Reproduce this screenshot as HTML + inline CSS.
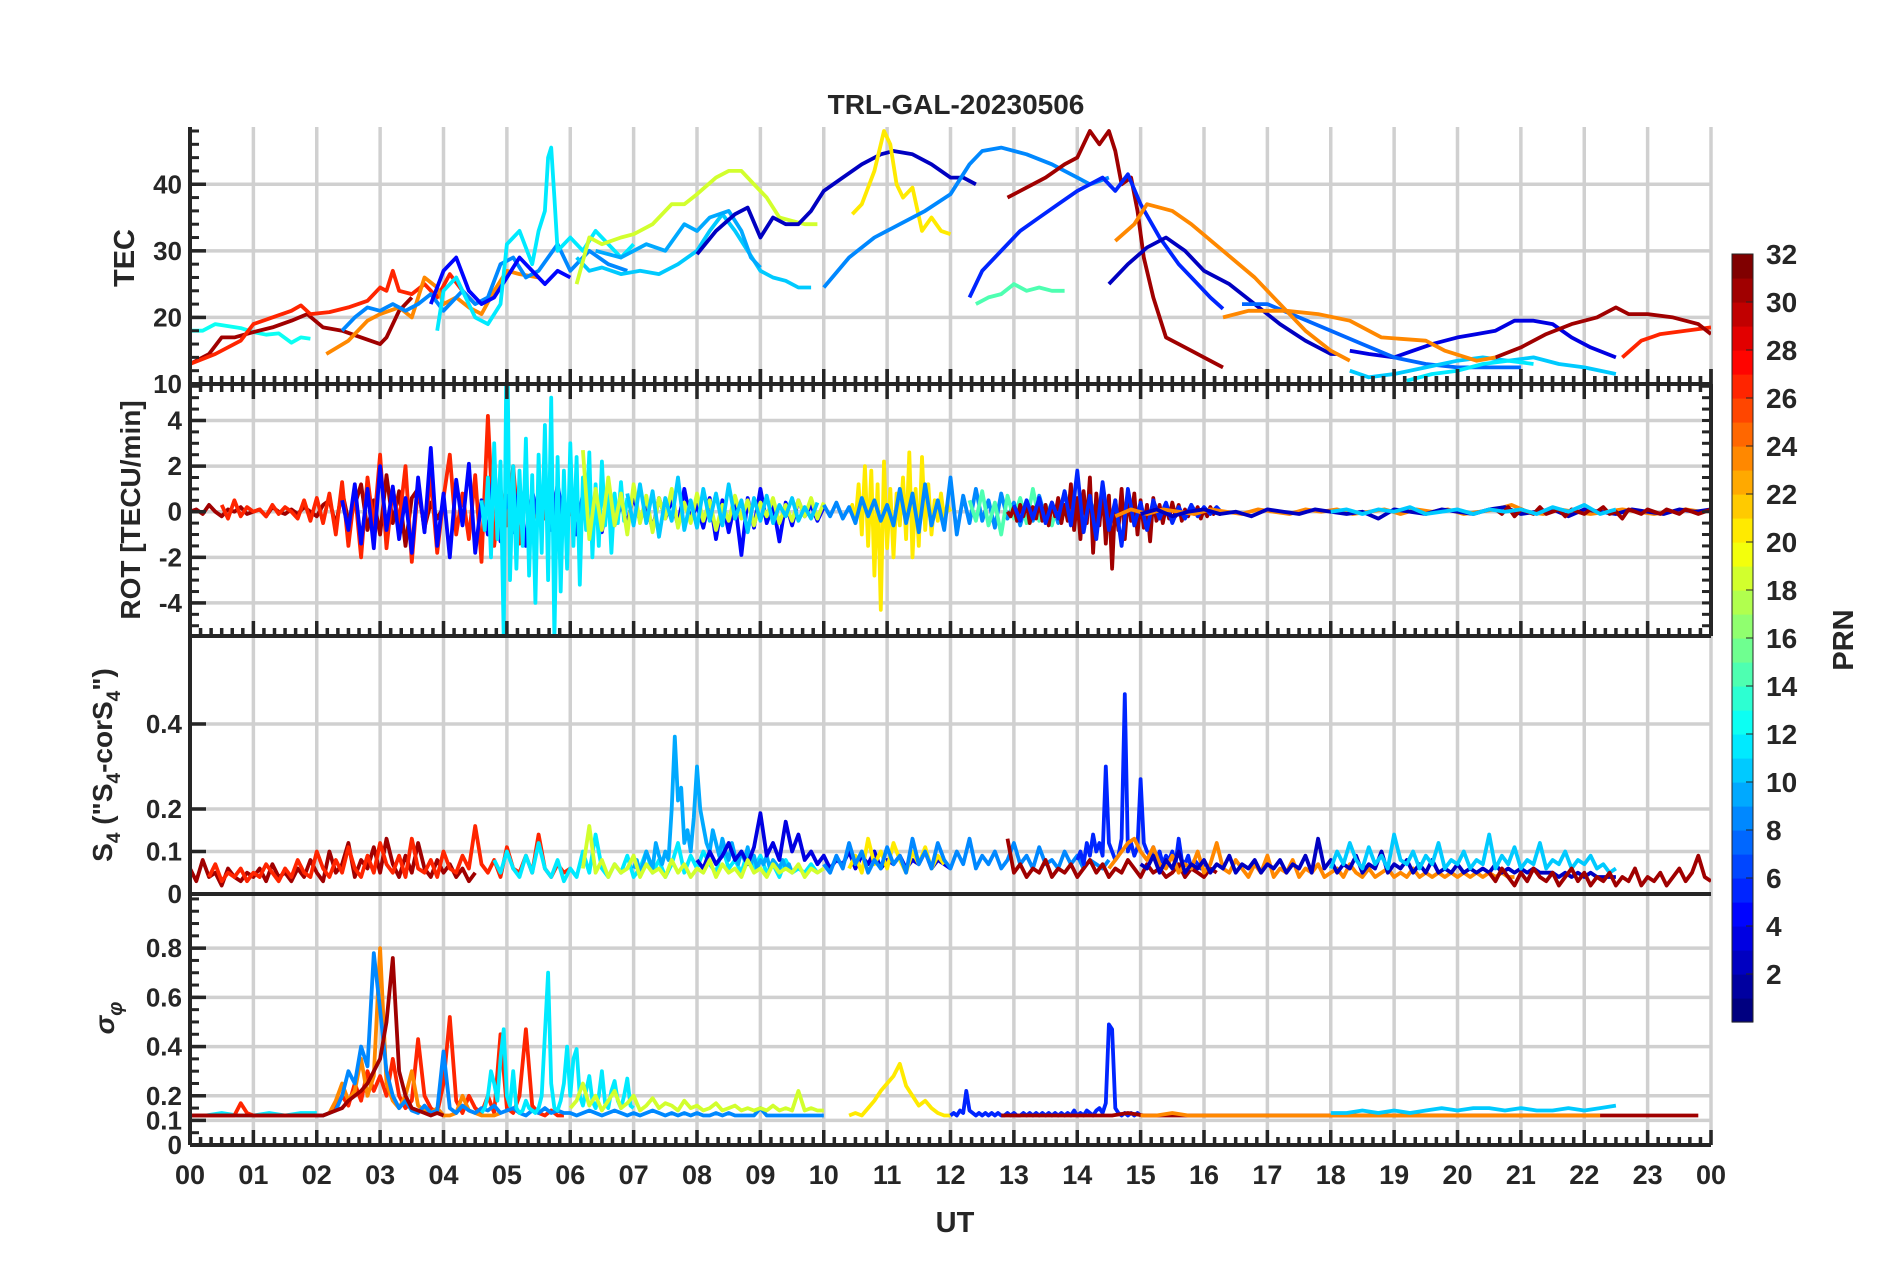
<!DOCTYPE html>
<html><head><meta charset="utf-8"><style>
html,body{margin:0;padding:0;background:#fff}
svg{display:block}
text{font-family:"Liberation Sans",Arial,sans-serif;font-weight:bold;fill:#262626}
</style></head><body>
<svg id="chart" xmlns="http://www.w3.org/2000/svg" width="1902" height="1272" viewBox="0 0 1902 1272">
<rect width="1902" height="1272" fill="#fff"/>
<defs>
<clipPath id="c1"><rect x="190" y="127" width="1521" height="257"/></clipPath>
<clipPath id="c2"><rect x="190" y="384" width="1521" height="252"/></clipPath>
<clipPath id="c3"><rect x="190" y="636" width="1521" height="258"/></clipPath>
<clipPath id="c4"><rect x="190" y="894" width="1521" height="251"/></clipPath>
</defs>
<g id="grid"></g>
<g id="series"></g>
<g id="axes"></g>
<text x="956" y="114" text-anchor="middle" font-size="28">TRL-GAL-20230506</text>
<text x="955" y="1232" text-anchor="middle" font-size="29">UT</text>
<text transform="translate(134,258) rotate(-90)" text-anchor="middle" font-size="29">TEC</text>
<text transform="translate(140,510) rotate(-90)" text-anchor="middle" font-size="28">ROT [TECU/min]</text>
<text transform="translate(112,765) rotate(-90)" text-anchor="middle" font-size="28">S<tspan font-size="19" dy="8">4</tspan><tspan dy="-8"> ("S</tspan><tspan font-size="19" dy="8">4</tspan><tspan dy="-8">-corS</tspan><tspan font-size="19" dy="8">4</tspan><tspan dy="-8">")</tspan></text>
<text transform="translate(114,1018) rotate(-90)" text-anchor="middle" font-size="28" font-style="italic" font-weight="normal">σ<tspan font-size="20" dy="8">φ</tspan></text>
<g id="cbar"></g>
<text transform="translate(1853,640) rotate(-90)" text-anchor="middle" font-size="29">PRN</text>
</svg>
<script>
// ---------- DATA ----------
const xTickLabels = ["00","01","02","03","04","05","06","07","08","09","10","11","12","13","14","15","16","17","18","19","20","21","22","23","00"];
const tecTicks = [10,20,30,40];
const rotTicks = [-4,-2,0,2,4];
const s4Ticks = [0,0.1,0.2,0.4];
const sigTicks = [0,0.1,0.2,0.4,0.6,0.8];
const cbarTicks = [2,4,6,8,10,12,14,16,18,20,22,24,26,28,30,32];

// TEC series: PRN, times (h), values
const tecPrn = [13,31,27,24,9,5,12,11,19,10,3,21,9,31,6,15,3,4,8,11,12,27,31,24,24];
const tecT = [
 [0,0.2,0.4,0.6,0.8,1,1.2,1.4,1.6,1.75,1.9],
 [0,0.3,0.5,0.7,1,1.3,1.6,1.85,2.1,2.4,2.7,3,3.1,3.3,3.5],
 [0,0.4,0.8,1,1.3,1.6,1.75,1.9,2.2,2.5,2.8,3,3.1,3.2,3.3,3.5,3.7,3.9,4.1,4.3,4.5],
 [2.15,2.5,2.8,3,3.3,3.5,3.7,3.9,4,4.2,4.4,4.6,4.8,5,5.2,5.5],
 [2.4,2.6,2.8,3,3.2,3.4,3.6,3.8,4,4.3,4.5,4.7,4.9,5.1,5.3,5.5,5.8,6,6.3,6.6,6.9],
 [3.8,4,4.2,4.4,4.6,4.8,5,5.2,5.4,5.6,5.8,6],
 [3.9,4.0,4.2,4.5,4.7,4.9,5.0,5.2,5.4,5.5,5.6,5.65,5.7,5.75,5.8,6,6.2,6.4,6.6,6.8,7],
 [6.1,6.3,6.5,6.8,7.1,7.4,7.7,8,8.2,8.4,8.6,8.8,9,9.2,9.4,9.6,9.8],
 [6.1,6.3,6.5,6.8,7,7.3,7.6,7.8,8,8.3,8.5,8.7,8.9,9.1,9.3,9.5,9.7,9.9],
 [6.4,6.8,7.2,7.5,7.8,8,8.2,8.5,8.7,8.85,9],
 [8.0,8.3,8.6,8.8,9,9.2,9.4,9.6,9.8,10,10.3,10.6,10.9,11.1,11.4,11.7,12,12.2,12.4],
 [10.45,10.6,10.8,10.95,11.05,11.15,11.25,11.4,11.55,11.7,11.85,12],
 [10,10.4,10.8,11.2,11.6,12,12.3,12.5,12.8,13.2,13.6,14,14.2,14.5],
 [12.9,13.2,13.5,13.8,14,14.2,14.35,14.5,14.6,14.7,14.85,14.95,15.05,15.2,15.4,15.6,15.8,16,16.3],
 [12.3,12.5,12.8,13.1,13.4,13.7,14,14.2,14.4,14.6,14.8,15.0,15.3,15.6,15.9,16.1,16.3],
 [12.4,12.6,12.8,13,13.2,13.4,13.6,13.8],
 [14.5,14.8,15.1,15.4,15.7,16,16.4,16.8,17.2,17.6,18.0,18.1],
 [18.3,18.6,19,19.3,19.6,20,20.3,20.6,20.9,21.2,21.5,21.8,22.1,22.5],
 [16.6,17,17.5,18,18.5,19,19.5,20,20.5,21],
 [18.3,18.6,19,19.5,20,20.4,20.8,21.2,21.6,22,22.5],
 [19.2,19.6,20,20.4,20.8,21.2],
 [22.6,22.9,23.2,23.6,24],
 [20.6,21,21.4,21.8,22.2,22.5,22.7,23,23.4,23.8,24],
 [14.6,14.9,15.1,15.5,15.8,16.3,16.8,17.2,17.6,18,18.3],
 [16.3,16.7,17.3,17.8,18.3,18.8,19.5,19.8,20.3,20.6]
];
const tecV = [
 [18,18,19,18.7,18.4,17.8,17.4,17.6,16.2,17,16.8],
 [13,14.5,17,17,17.8,18.5,19.5,20.5,18.5,18,17,16,17,21,23],
 [13,14.5,16.5,19,20,21,21.8,20.5,20.8,21.5,22.5,24.5,24,27,24,23.5,25,23,26.5,24,22],
 [14.5,16.5,19.5,20.5,21.5,20,26,24.5,22,23,21.5,20.5,24,27,26.5,26],
 [18,20,21.5,21,22,21,22,23.5,21,24,22,23,28,29,26,27,31,27,30,28,27],
 [22,27,29,24,22,23,26,29,27,25,27,26],
 [18,24,26,20,19,22,31,33,28,33,36,44,45.5,38,30,32,30,33,31,29,31],
 [29,27,27.5,26.5,27,26.5,28,30,33,35.5,33,30,27,26,25.5,24.5,24.5],
 [25,32,31,32,32.5,34,37,37,38.5,41,42,42,40,38,35,34.5,34,34],
 [30,29,31,30,34,33,35,36,33,29,27.5],
 [29.5,33,35.5,36.5,32,35,34,34,36,39,41,43,44.5,45,44.5,43,41,41,40],
 [35.5,37,42,48,46,40,38,39.5,33,35,33,32.5],
 [24.5,29,32,34,36,38.5,43,45,45.5,44.5,43,41,40,41],
 [38,39.5,41,43,44,48,46,48,45,40,41,36,29,23,17,16,15,14,12.5],
 [23,27,30,33,35,37,39,40,41,39,41.5,37,32,28,25,23,21.3],
 [22,23,23.5,25,24,24.5,24,24],
 [25,28,30.5,32,30,27,25,22,19,16.5,14.5,14.5],
 [15,14.5,14,15,16,17,17.5,18,19.5,19.5,19,17,15.5,14],
 [22,22,20,18,16,14,13,12.5,12.5,12.5],
 [12,11,11.5,12.5,13.5,14,13.5,14,13,12.5,11.5],
 [10.5,11.5,12,13,13.5,13],
 [14,16.5,17.5,18,18.5],
 [14,15.5,17.5,19,20,21.5,20.5,20.5,20,19,17.5],
 [31.5,34,37,36,34,30,26,22,18,15,13.5],
 [20,21,21,20.5,19.5,17,16.5,15,13.5,14]
];

// ROT series: PRN, start time, step, values
const rotPrn = [31,27,5,12,19,11,21,9,15,31,6,24,3,31,11];
const rotT0 = [0,0.5,2.4,4.6,6.2,6.9,10.4,10,12.3,12.9,13,14.6,15,20.6,18];
const rotDt = [0.1,0.1,0.1,0.05,0.1,0.1,0.05,0.1,0.1,0.05,0.1,0.25,0.25,0.1,0.25];
const rotV = [
 [0,0.1,-0.1,0.3,0,-0.2,0.1,0,0.2,-0.1,0,0.1,-0.2,0.2,0,-0.1,0.1,-0.1,0.2,0,-0.2,0.3,0.5,-0.6,0.9,-0.4,0.3,1.2,-0.8,0.5,-1.0,1.6,-0.5,0.9,-1.5,0.6,1.0,-0.7,0.4,-0.3,0.2],
 [0.3,-0.3,0.5,-0.2,0.2,0,0.1,-0.2,0.3,-0.1,0.2,0,-0.3,0.5,-0.4,0.6,-0.5,0.8,-1.0,1.3,-1.5,0.9,-2.0,1.5,-0.7,2.5,-1.6,1.0,-0.5,2.0,-2.2,1.2,-0.8,1.5,-1.8,0.6,2.5,-1.0,0.8,-1.2,1.6,-2.2,4.2,-1.5,1.0,-0.6,2.0,-1.4,0.8,-0.5,0.6,-0.3,1.2,-0.8,0.4,-0.2],
 [0.5,-0.8,1.2,-1.4,1.0,-1.6,2.0,-0.8,1.1,-1.2,0.6,-1.8,1.5,-0.9,2.8,-1.5,0.8,-2.0,1.4,-0.6,2.1,-1.8,0.5,-1.0,2.0,-1.3,0.7,-0.9,1.2,-1.5,0.9,-0.4,1.0,-0.8,1.2,-0.5,0.6,-1.0,0.8,-0.4,0.5,-0.9,1.0,-0.6,0.3,-0.5,0.7,-0.4,0.4,-0.8,0.6,-0.3,0.5,-0.6,1.0,-0.4,0.3,-0.7,0.6,-1.2,0.5,-0.9,0.4,-1.9,0.6,-0.7,1.0,-0.5,0.3,-1.3,0.4,-0.6,0.5,-0.2,0.3,-0.4,0.2],
 [0.5,-0.8,1.5,-2.0,3.0,-1.2,2.2,-5.5,9,-3.0,2.0,-2.5,1.8,-1.5,3.2,-2.8,1.6,-4.0,2.5,-1.8,3.8,-3.0,5.0,-5.6,2.4,-3.5,1.8,-2.5,3.0,-1.5,2.4,-3.2,1.5,-0.8,2.6,-2.0,1.2,-1.5,2.2,-0.6,1.0,-1.8,0.8,-0.5,1.3,-0.4,0.6],
 [2.7,-1.2,1.0,-0.8,1.5,-0.6,0.8,-1.0,1.2,-0.5,0.7,-0.9,0.6,-0.3,1.0,-0.7,0.4,-0.5,0.8,-0.4,0.5,-0.8,0.3,-0.4,0.7,-0.3,0.5,-0.6,0.4,-0.2,0.6,-0.5,0.3,-0.4,0.5,-0.2,0.6,-0.3,0.4],
 [0.8,-0.6,1.2,-0.5,0.9,-1.1,0.6,-0.4,1.5,-0.8,0.5,-0.7,1.0,-0.4,0.8,-0.6,1.2,-0.3,0.5,-0.9,0.6,-0.4,0.7,-0.5,0.3,-0.2,0.6,-0.4,0.2,-0.3,0.4],
 [0,0.3,-0.5,1.2,-1.0,2.0,-1.5,1.8,-2.8,1.2,-4.3,2.2,-1.6,1.0,-2.0,0.8,-0.6,1.5,-1.2,2.6,-2.0,1.0,-1.5,2.4,-0.8,1.2,-1.0,0.5,-0.4,0.8,-0.3,0.3,0],
 [0.3,-0.2,0.4,-0.3,0.2,-0.5,0.6,-0.2,0.5,-0.4,0.3,-0.6,1.0,-0.5,0.8,-0.9,1.2,-0.6,0.5,-0.8,1.5,-1.0,0.7,-0.5,1.0,-0.4,0.5,-0.7,0.8,-0.3,0.4,-0.6,0.5,-0.4,0.7,-0.3,0.4,-0.5,0.9,-0.4,0.3,-0.6,0.5,-0.2,0.4,-0.3],
 [0.5,-0.4,0.9,-0.6,0.4,-1.0,0.7,-0.3,0.6,-0.5,1.0,-0.4,0.3,-0.6,0.5,-0.2],
 [0,-0.2,0.2,-0.4,0.3,-0.2,0.4,-0.5,0.2,-0.3,0.5,-0.4,0.3,-0.6,0.4,-0.2,0.6,-0.5,0.3,-0.4,1.2,-0.8,0.6,-1.2,0.9,-0.5,1.5,-1.8,0.8,-0.6,1.0,-1.4,0.7,-2.5,0.5,-0.8,1.0,-1.2,0.6,-0.4,0.8,-1.0,0.5,-0.7,0.3,-1.3,0.6,-0.4,0.3,-0.5,0.2,-0.3,0.4,-0.2,0.3,-0.4,0.1,-0.2,0.3,-0.1,0.2,-0.3,0.1,-0.2,0.2,-0.1,0.1,-0.1,0],
 [0.3,-0.4,0.5,-0.3,0.6,-0.5,0.4,-0.3,0.9,-0.6,1.8,-0.9,0.7,-1.2,1.3,-0.8,0.5,-1.5,1.0,-0.6,0.4,-0.8,0.5,-0.3,0.4,-0.5,0.2,-0.3,0.3,-0.2,0.2,-0.1,0.2,-0.1],
 [-0.2,0.1,-0.1,0.1,0,-0.1,0.1,0,-0.1,0.1,0,-0.1,0.1,0,0.1,-0.1,0,0.1,-0.1,0.1,0,0.1,-0.1,0,0.1,0.3,0,-0.1,0.1,0,-0.1,0,0.1,0,-0.1,0,0.1,0],
 [-0.1,0.1,-0.2,0,0.1,-0.1,0,-0.2,0.1,0,-0.1,0.1,0,-0.1,0,-0.3,0.1,0,-0.1,0.1,0,-0.1,0.1,0.2,-0.1,0,0.1,-0.2,0.1,0,-0.1,0.1,0,-0.1,0.1,0,0.1],
 [0.1,-0.1,0.2,-0.2,0.1,0,-0.1,0.2,-0.1,0,0.1,-0.2,0.1,0,-0.1,0.1,0,0.2,-0.1,0,-0.3,0.1,0,-0.1,0.1,0,-0.1,0.1,0,-0.1,0.1,0,-0.1,0,0.1],
 [0,0.1,-0.1,0.1,0,0.2,-0.1,0,0.1,-0.1,0.1,0,0.1,-0.1,0.2,0,0.3,-0.1,0.1]
];

// S4 series
const s4Prn = [31,27,12,10,4,19,21,9,31,6,24,3,11,31];
const s4T0 = [0,0.3,4.8,7,8,6.2,10.4,10,12.9,14,14.5,15,18,20.5];
const s4Dt = [0.1,0.1,0.1,0.05,0.1,0.1,0.1,0.1,0.1,0.05,0.1,0.1,0.1,0.1];
const s4V = [
 [0.06,0.03,0.08,0.04,0.05,0.02,0.06,0.04,0.03,0.05,0.04,0.06,0.03,0.07,0.04,0.05,0.03,0.06,0.04,0.08,0.05,0.03,0.1,0.05,0.07,0.12,0.04,0.08,0.06,0.11,0.05,0.13,0.07,0.04,0.09,0.05,0.12,0.06,0.04,0.08,0.05,0.07,0.04,0.06,0.03,0.05],
 [0.04,0.07,0.03,0.05,0.04,0.06,0.03,0.05,0.04,0.07,0.05,0.03,0.06,0.04,0.08,0.05,0.04,0.1,0.06,0.04,0.08,0.05,0.11,0.06,0.04,0.09,0.05,0.12,0.07,0.05,0.09,0.04,0.13,0.06,0.05,0.08,0.04,0.1,0.06,0.05,0.09,0.06,0.16,0.07,0.05,0.08,0.04,0.11,0.06,0.05,0.09,0.05,0.14,0.06,0.04,0.07,0.05,0.06],
 [0.08,0.05,0.1,0.06,0.04,0.09,0.05,0.12,0.06,0.04,0.08,0.03,0.06,0.04,0.1,0.05,0.14,0.06,0.04,0.07,0.05,0.09,0.04,0.06,0.1,0.05,0.08,0.04,0.07,0.12,0.05,0.09,0.06,0.1,0.07,0.05,0.11,0.06,0.08,0.05,0.1,0.06,0.09,0.05,0.07,0.04,0.08,0.05,0.06,0.05,0.07,0.05],
 [0.06,0.08,0.05,0.07,0.1,0.08,0.06,0.12,0.09,0.07,0.1,0.08,0.2,0.37,0.22,0.25,0.12,0.15,0.1,0.18,0.3,0.2,0.16,0.12,0.1,0.15,0.12,0.09,0.13,0.1,0.08,0.12,0.09,0.07,0.1,0.08,0.11,0.07,0.09,0.06,0.08,0.07,0.09,0.06,0.08,0.07,0.06,0.08,0.06,0.07,0.05],
 [0.08,0.06,0.1,0.07,0.09,0.12,0.08,0.1,0.07,0.11,0.19,0.09,0.12,0.08,0.17,0.1,0.14,0.08,0.1,0.07,0.09,0.06,0.08,0.07,0.1,0.06,0.09,0.07,0.1,0.06,0.08,0.07,0.09,0.06,0.08,0.07,0.1,0.06,0.08,0.07,0.06],
 [0.06,0.16,0.05,0.08,0.04,0.07,0.05,0.06,0.09,0.04,0.07,0.05,0.06,0.04,0.08,0.05,0.07,0.04,0.06,0.05,0.08,0.04,0.07,0.05,0.06,0.04,0.08,0.05,0.06,0.04,0.07,0.05,0.06,0.05,0.07,0.04,0.06,0.05,0.06],
 [0.06,0.09,0.05,0.13,0.07,0.1,0.06,0.12,0.08,0.05,0.1,0.07,0.11,0.06,0.09,0.07],
 [0.07,0.05,0.09,0.06,0.12,0.07,0.1,0.05,0.08,0.06,0.11,0.07,0.09,0.05,0.13,0.07,0.1,0.06,0.12,0.08,0.06,0.1,0.07,0.13,0.06,0.09,0.07,0.1,0.06,0.08,0.12,0.07,0.09,0.06,0.11,0.07,0.08,0.06,0.1,0.07,0.09,0.06,0.08,0.07,0.06,0.08],
 [0.13,0.05,0.07,0.04,0.06,0.05,0.08,0.04,0.06,0.05,0.07,0.04,0.06,0.08,0.05,0.07,0.04,0.06,0.05,0.08,0.06,0.04,0.07,0.05,0.06,0.04,0.05,0.07,0.04,0.06,0.05,0.04,0.06,0.05],
 [0.08,0.1,0.07,0.12,0.09,0.14,0.1,0.12,0.09,0.3,0.12,0.1,0.08,0.09,0.13,0.47,0.1,0.12,0.09,0.11,0.27,0.12,0.1,0.09,0.11,0.08,0.1,0.07,0.09,0.08,0.1,0.07,0.13,0.08,0.07,0.09,0.06,0.08,0.07,0.06,0.07],
 [0.06,0.08,0.1,0.12,0.13,0.1,0.08,0.11,0.07,0.06,0.09,0.05,0.07,0.06,0.1,0.05,0.07,0.12,0.06,0.05,0.08,0.06,0.04,0.07,0.05,0.09,0.04,0.06,0.05,0.08,0.04,0.06,0.05,0.07,0.04,0.05,0.06,0.04,0.07,0.05,0.04,0.06,0.04,0.05,0.06,0.04,0.05,0.04,0.06,0.04,0.05,0.04,0.05,0.04,0.05,0.04,0.05,0.04,0.05,0.04,0.05,0.04,0.05,0.04,0.04],
 [0.07,0.06,0.09,0.05,0.08,0.06,0.1,0.05,0.07,0.06,0.08,0.05,0.07,0.06,0.09,0.05,0.07,0.06,0.08,0.05,0.07,0.06,0.08,0.05,0.07,0.06,0.09,0.05,0.13,0.06,0.08,0.05,0.07,0.06,0.09,0.05,0.07,0.06,0.1,0.05,0.07,0.06,0.08,0.05,0.07,0.05,0.08,0.05,0.06,0.05,0.07,0.05,0.06,0.05,0.06,0.05,0.07,0.05,0.06,0.05,0.06,0.05,0.06,0.05,0.05,0.05,0.04,0.05,0.04,0.05,0.04,0.05,0.04,0.04,0.04,0.04],
 [0.06,0.1,0.07,0.12,0.08,0.06,0.11,0.07,0.09,0.06,0.14,0.08,0.07,0.1,0.06,0.09,0.07,0.12,0.06,0.08,0.07,0.1,0.06,0.08,0.07,0.14,0.06,0.09,0.07,0.11,0.06,0.08,0.07,0.12,0.06,0.08,0.07,0.1,0.06,0.08,0.07,0.09,0.06,0.07,0.05,0.06],
 [0.05,0.03,0.06,0.04,0.02,0.05,0.03,0.06,0.04,0.03,0.05,0.02,0.04,0.06,0.03,0.05,0.02,0.04,0.03,0.05,0.02,0.04,0.03,0.06,0.02,0.04,0.03,0.05,0.02,0.04,0.06,0.03,0.05,0.09,0.04,0.03]
];

// Sigma-phi series
const sigPrn = [12,27,24,9,31,12,19,21,6,31,24,11];
const sigT0 = [0,0,2,2,0,4.6,6,10.4,12,12.8,15,18];
const sigDt = [0.25,0.1,0.1,0.1,0.1,0.05,0.1,0.1,0.05,0.25,0.25,0.25];
const sigV = [
 [0.12,0.12,0.13,0.12,0.12,0.13,0.12,0.13,0.13],
 [0.12,0.12,0.12,0.12,0.12,0.12,0.12,0.12,0.17,0.13,0.12,0.12,0.12,0.12,0.12,0.12,0.12,0.12,0.12,0.12,0.12,0.12,0.13,0.15,0.2,0.16,0.25,0.18,0.3,0.22,0.28,0.2,0.35,0.2,0.15,0.18,0.43,0.2,0.15,0.13,0.25,0.52,0.18,0.13,0.2,0.15,0.13,0.2,0.13,0.45,0.15,0.13,0.2,0.47,0.16,0.13,0.12,0.14,0.12,0.12],
 [0.12,0.12,0.13,0.18,0.25,0.18,0.22,0.35,0.2,0.28,0.8,0.25,0.18,0.15,0.2,0.3,0.16,0.14,0.13,0.15,0.12,0.12,0.13,0.2,0.14,0.13,0.12,0.12,0.12,0.13],
 [0.12,0.12,0.13,0.14,0.2,0.3,0.25,0.4,0.32,0.78,0.55,0.3,0.2,0.15,0.18,0.14,0.13,0.16,0.13,0.14,0.38,0.15,0.13,0.16,0.14,0.13,0.15,0.14,0.16,0.13,0.14,0.15,0.13,0.12,0.14,0.13,0.15,0.13,0.14,0.13,0.13,0.12,0.13,0.14,0.13,0.12,0.13,0.14,0.13,0.12,0.13,0.12,0.13,0.14,0.13,0.12,0.13,0.12,0.13,0.12,0.13,0.12,0.12,0.13,0.12,0.13,0.12,0.12,0.12,0.12,0.15,0.12,0.12,0.12,0.12,0.12,0.12,0.12,0.12,0.12,0.12],
 [0.12,0.12,0.12,0.12,0.12,0.12,0.12,0.12,0.12,0.12,0.12,0.12,0.12,0.12,0.12,0.12,0.12,0.12,0.12,0.12,0.12,0.12,0.13,0.14,0.15,0.18,0.2,0.22,0.25,0.3,0.35,0.5,0.76,0.3,0.2,0.15,0.14,0.13,0.12,0.13,0.12],
 [0.13,0.15,0.2,0.3,0.25,0.18,0.35,0.47,0.2,0.16,0.3,0.15,0.13,0.14,0.18,0.15,0.14,0.13,0.15,0.2,0.45,0.7,0.25,0.15,0.14,0.18,0.25,0.4,0.2,0.35,0.39,0.2,0.16,0.22,0.28,0.18,0.15,0.2,0.3,0.17,0.15,0.22,0.26,0.18,0.15,0.2,0.27,0.16,0.15],
 [0.15,0.18,0.25,0.16,0.2,0.14,0.18,0.22,0.15,0.17,0.2,0.14,0.16,0.19,0.15,0.17,0.16,0.14,0.18,0.15,0.16,0.14,0.15,0.17,0.14,0.15,0.16,0.14,0.15,0.14,0.15,0.14,0.16,0.14,0.15,0.14,0.22,0.14,0.15,0.14,0.14],
 [0.12,0.13,0.12,0.15,0.18,0.22,0.25,0.28,0.33,0.24,0.2,0.16,0.18,0.15,0.13,0.12,0.12],
 [0.12,0.13,0.12,0.14,0.13,0.22,0.14,0.13,0.12,0.13,0.12,0.13,0.12,0.13,0.12,0.13,0.12,0.12,0.13,0.12,0.13,0.12,0.12,0.13,0.12,0.13,0.12,0.13,0.12,0.13,0.12,0.13,0.12,0.13,0.12,0.13,0.12,0.13,0.12,0.14,0.12,0.13,0.12,0.14,0.13,0.12,0.14,0.15,0.13,0.17,0.49,0.47,0.15,0.13,0.12,0.13,0.12,0.13,0.12,0.13,0.12],
 [0.12,0.12,0.12,0.12,0.12,0.12,0.12,0.12,0.13,0.12,0.12,0.12,0.12,0.12,0.12,0.12,0.12,0.12,0.12,0.12,0.12,0.12,0.12,0.12,0.12,0.12,0.12,0.12,0.12,0.12,0.12,0.12,0.12,0.12,0.12,0.12,0.12,0.12,0.12,0.12,0.12,0.12,0.12,0.12,0.12],
 [0.12,0.12,0.13,0.12,0.12,0.12,0.12,0.12,0.12,0.12,0.12,0.12,0.12,0.12,0.12,0.12,0.12,0.12,0.12,0.12,0.12,0.12,0.12,0.12,0.12,0.12,0.12,0.12,0.12,0.12],
 [0.13,0.13,0.14,0.13,0.14,0.13,0.14,0.15,0.14,0.15,0.15,0.14,0.15,0.14,0.14,0.15,0.14,0.15,0.16]
];

// ---------- RENDER ----------
const NS = "http://www.w3.org/2000/svg";
const X0 = 190, X1 = 1711;
const xs = h => X0 + (X1 - X0) * h / 24;
const panels = [
 {top:127,bottom:384,min:10,max:48.6,ticks:tecTicks,minor:2,grid:[20,30,40],clip:"c1",name:"tec"},
 {top:384,bottom:636,min:-5.45,max:5.6,ticks:rotTicks,minor:0.5,grid:[-4,-2,0,2,4],clip:"c2",name:"rot"},
 {top:636,bottom:894,min:0,max:0.607,ticks:s4Ticks,minor:0,grid:[0.1,0.2,0.4],clip:"c3",name:"s4"},
 {top:894,bottom:1145,min:0,max:1.02,ticks:sigTicks,minor:0.05,grid:[0.1,0.2,0.4,0.6,0.8],clip:"c4",name:"sigma"}
];
const yOf = (p, v) => p.bottom - (v - p.min) / (p.max - p.min) * (p.bottom - p.top);
function jet(prn){
 const x = (prn - 1) / 31;
 const c = t => Math.round(255 * Math.max(0, Math.min(1, 1.5 - Math.abs(4 * x - t))));
 return `rgb(${c(3)},${c(2)},${c(1)})`;
}
function mk(tag, attrs, parent){
 const e = document.createElementNS(NS, tag);
 for (const k in attrs) e.setAttribute(k, attrs[k]);
 parent.appendChild(e);
 return e;
}
const gGrid = document.getElementById('grid');
const gSer = document.getElementById('series');
const gAx = document.getElementById('axes');
const GRID = "#d0d0d0", AX = "#262626";

panels.forEach(p => {
 for (let h = 1; h <= 24; h++) {
  const l = mk('line', {x1:xs(h), x2:xs(h), y1:p.top, y2:p.bottom, stroke:GRID, 'stroke-width':3.5}, gGrid);
  
  
 }
 p.grid.forEach(v => {
  const l = mk('line', {x1:X0, x2:X1, y1:yOf(p, v), y2:yOf(p, v), stroke:GRID, 'stroke-width':3.5}, gGrid);
  
  
 });
});

function drawSeries(p, prn, ts, vs, name){
 const pts = vs.map((v, i) => xs(ts[i]).toFixed(1) + ',' + yOf(p, v).toFixed(1)).join(' ');
 const pl = mk('polyline', {points:pts, fill:'none', stroke:jet(prn), 'stroke-width':3.8, 'stroke-linejoin':'round', 'clip-path':`url(#${p.clip})`}, gSer);
 
 
}
tecPrn.forEach((prn, i) => drawSeries(panels[0], prn, tecT[i], tecV[i], 'tec-line'));
function stepSeries(p, prns, t0s, dts, vals, name){
 prns.forEach((prn, i) => {
  const ts = vals[i].map((_, k) => t0s[i] + k * dts[i]);
  drawSeries(p, prn, ts, vals[i], name);
 });
}
stepSeries(panels[1], rotPrn, rotT0, rotDt, rotV, 'rot-line');
stepSeries(panels[2], s4Prn, s4T0, s4Dt, s4V, 's4-line');
stepSeries(panels[3], sigPrn, sigT0, sigDt, sigV, 'sigma-line');

// axes
panels.forEach((p, pi) => {
 const la = mk('line', {x1:X0, x2:X0, y1:p.top, y2:p.bottom, stroke:AX, 'stroke-width':4}, gAx);
 
 
 const ba = mk('line', {x1:X0, x2:X1, y1:p.bottom, y2:p.bottom, stroke:AX, 'stroke-width':4}, gAx);
 
 
 if (pi === 1) {
  const ra = mk('line', {x1:X1, x2:X1, y1:p.top, y2:p.bottom, stroke:AX, 'stroke-width':4}, gAx);
  
  
  for (let v = -5; v <= 5.5; v += 0.5) {
   const t = mk('line', {x1:X1, x2:X1 - 9, y1:yOf(p, v), y2:yOf(p, v), stroke:AX, 'stroke-width':3}, gAx);
   
   
  }
 }
 if (p.minor) {
  for (let v = Math.ceil(p.min / p.minor) * p.minor; v <= p.max; v += p.minor) {
   const y = yOf(p, v);
   const t = mk('line', {x1:X0, x2:X0 + 9, y1:y, y2:y, stroke:AX, 'stroke-width':3}, gAx);
   
   
  }
 }
 p.ticks.forEach(v => {
  const y = yOf(p, v);
  const t = mk('line', {x1:X0, x2:X0 + 16, y1:y, y2:y, stroke:AX, 'stroke-width':3.5}, gAx);
  
  
  const tx = mk('text', {x:X0 - 8, y:y + 9, 'text-anchor':'end', 'font-size':26}, gAx);
  
  
  tx.textContent = String(v);
 });
 const edges = pi === 1 ? [[p.bottom, -1], [p.top, 1]] : (pi === 2 ? [] : [[p.bottom, -1]]);
 edges.forEach(([yy, dir]) => {
  for (let k = 0; k <= 144; k++) {
   const major = k % 6 === 0;
   const len = major ? 15 : 8;
   const t = mk('line', {x1:xs(k / 6), x2:xs(k / 6), y1:yy, y2:yy + dir * len, stroke:AX, 'stroke-width':3.5}, gAx);
   
   
  }
 });
});
for (let k = 0; k <= 144; k++) {
 const major = k % 6 === 0;
 const t = mk('line', {x1:xs(k / 6), x2:xs(k / 6), y1:384, y2:384 - (major ? 15 : 8), stroke:AX, 'stroke-width':3.5}, gAx);
 
 
}
xTickLabels.forEach((lab, i) => {
 const tx = mk('text', {x:xs(i), y:1184, 'text-anchor':'middle', 'font-size':27}, gAx);
 
 
 tx.textContent = lab;
});

// colorbar
const gC = document.getElementById('cbar');
const CB = {x:1732, w:21, top:254, bottom:1022};
const step = (CB.bottom - CB.top) / 32;
for (let prn = 1; prn <= 32; prn++) {
 const r = mk('rect', {x:CB.x, y:CB.bottom - prn * step, width:CB.w, height:step + 0.6, fill:jet(prn)}, gC);
 
 
}
const frame = mk('rect', {x:CB.x, y:CB.top, width:CB.w, height:CB.bottom - CB.top, fill:'none', stroke:AX, 'stroke-width':1}, gC);


cbarTicks.forEach(v => {
 const y = CB.bottom - v * step;
 const tk = mk('line', {x1:CB.x + CB.w - 7, x2:CB.x + CB.w, y1:y, y2:y, stroke:AX, 'stroke-width':1}, gC);
 
 
 const tx = mk('text', {x:CB.x + 34, y:y + 10, 'font-size':28}, gC);
 
 
 tx.textContent = String(v);
});
</script>
</body></html>
